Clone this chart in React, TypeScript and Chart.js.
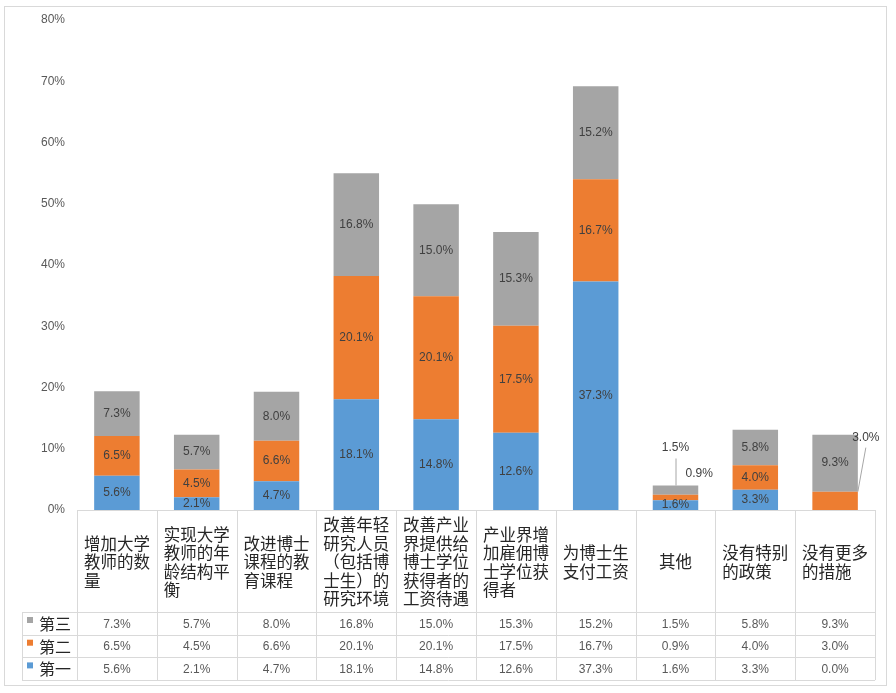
import React, { useEffect, useRef } from "react";
import { Chart, registerables } from "chart.js";

Chart.register(...registerables);

// ---- data ----
const categoryLines: string[][] = [
  ["增加大学", "教师的数", "量"],
  ["实现大学", "教师的年", "龄结构平", "衡"],
  ["改进博士", "课程的教", "育课程"],
  ["改善年轻", "研究人员", "（包括博", "士生）的", "研究环境"],
  ["改善产业", "界提供给", "博士学位", "获得者的", "工资待遇"],
  ["产业界增", "加雇佣博", "士学位获", "得者"],
  ["为博士生", "支付工资"],
  ["其他"],
  ["没有特别", "的政策"],
  ["没有更多", "的措施"],
];
const seriesNames = ["第一", "第二", "第三"];
const firstValues = [5.6, 2.1, 4.7, 18.1, 14.8, 12.6, 37.3, 1.6, 3.3, 0.0];
const secondValues = [6.5, 4.5, 6.6, 20.1, 20.1, 17.5, 16.7, 0.9, 4.0, 3.0];
const thirdValues = [7.3, 5.7, 8.0, 16.8, 15.0, 15.3, 15.2, 1.5, 5.8, 9.3];
const seriesColors = ["#5B9BD5", "#ED7D31", "#A5A5A5"];
const yMax = 80;
const yStep = 10;

const NUM_FONT = '12px "Liberation Sans", Arial, sans-serif';
const CJK_FONT = '16.5px "Noto Sans CJK SC", sans-serif';
const LEGEND_FONT = '16px "Noto Sans CJK SC", sans-serif';
const BORDER = "#D9D9D9";

const fmt = (v: number) => v.toFixed(1) + "%";

const labelPlugin = {
  id: "segLabels",
  afterDatasetsDraw(chart: any) {
    const ctx = chart.ctx;
    ctx.save();
    ctx.font = NUM_FONT;
    ctx.fillStyle = "#404040";
    ctx.textAlign = "center";
    ctx.textBaseline = "middle";
    chart.data.datasets.forEach((ds: any, di: number) => {
      const meta = chart.getDatasetMeta(di);
      meta.data.forEach((bar: any, i: number) => {
        const v = ds.data[i];
        if (!v) return;
        const top = Math.min(bar.y, bar.base);
        const right = bar.x + bar.width / 2;
        if (i === 7 && di === 2) {
          ctx.fillText(fmt(v), bar.x, top - 38);
          ctx.strokeStyle = "#A6A6A6";
          ctx.lineWidth = 1;
          ctx.beginPath();
          ctx.moveTo(bar.x + 0.5, top - 27);
          ctx.lineTo(bar.x + 0.5, top);
          ctx.stroke();
          return;
        }
        if (i === 7 && di === 1) {
          ctx.fillText(fmt(v), right + 1, top - 21);
          return;
        }
        if (i === 9 && di === 1) {
          ctx.fillText(fmt(v), right + 8, top - 54);
          ctx.strokeStyle = "#A6A6A6";
          ctx.lineWidth = 1;
          ctx.beginPath();
          ctx.moveTo(right + 8, top - 44);
          ctx.lineTo(right, top);
          ctx.stroke();
          return;
        }
        ctx.fillText(fmt(v), bar.x, (bar.y + bar.base) / 2);
      });
    });
    ctx.restore();
  },
};

const tablePlugin = {
  id: "dataTable",
  afterDraw(chart: any) {
    const ctx = chart.ctx;
    const xs = chart.scales.x;
    const n = chart.data.labels.length;
    const colW = xs.getPixelForValue(1) - xs.getPixelForValue(0);
    const left = xs.getPixelForValue(0) - colW / 2;
    const right = left + colW * n;
    const top = chart.chartArea.bottom;
    const catBottom = top + 102;
    const rowH = 22.7;
    const tableBottom = catBottom + rowH * 3;
    const legendLeft = 22;

    ctx.save();
    ctx.fillStyle = "#FFFFFF";
    ctx.fillRect(left, top + 0.5, right - left, tableBottom - top);
    ctx.fillRect(legendLeft, catBottom, left - legendLeft, tableBottom - catBottom);

    // borders
    ctx.strokeStyle = BORDER;
    ctx.lineWidth = 1;
    ctx.beginPath();
    ctx.moveTo(left, top + 0.5);
    ctx.lineTo(right, top + 0.5);
    for (let r = 0; r <= 3; r++) {
      const y = Math.round(catBottom + r * rowH) + 0.5;
      ctx.moveTo(legendLeft, y);
      ctx.lineTo(right, y);
    }
    for (let k = 0; k <= n; k++) {
      const x = Math.round(left + k * colW) + 0.5;
      ctx.moveTo(x, top);
      ctx.lineTo(x, tableBottom);
    }
    ctx.moveTo(legendLeft + 0.5, catBottom);
    ctx.lineTo(legendLeft + 0.5, tableBottom);
    ctx.stroke();

    // category labels
    ctx.font = CJK_FONT;
    ctx.fillStyle = "#262626";
    ctx.textBaseline = "middle";
    ctx.textAlign = "left";
    const lineH = 18.5;
    categoryLines.forEach((lines, i) => {
      const cx = xs.getPixelForValue(i);
      const maxW = Math.max(...lines.map((l) => ctx.measureText(l).width));
      const bx = cx - maxW / 2;
      const cy = (top + catBottom) / 2;
      const y0 = cy - ((lines.length - 1) * lineH) / 2;
      lines.forEach((l, j) => ctx.fillText(l, bx, y0 + j * lineH + 1));
    });

    // rows: 第三, 第二, 第一
    const rows = [2, 1, 0];
    rows.forEach((di, r) => {
      const rTop = catBottom + r * rowH;
      const cy = rTop + rowH / 2;
      ctx.fillStyle = seriesColors[di];
      ctx.fillRect(27, rTop + 5, 6, 6);
      ctx.font = LEGEND_FONT;
      ctx.fillStyle = "#262626";
      ctx.textAlign = "left";
      ctx.fillText(seriesNames[di], 39, cy + 0.5);
      ctx.font = NUM_FONT;
      ctx.fillStyle = "#595959";
      ctx.textAlign = "center";
      const vals = chart.data.datasets[di].data;
      vals.forEach((v: number, i: number) => {
        ctx.fillText(fmt(v), xs.getPixelForValue(i), cy + 1);
      });
    });

    // outer frame
    ctx.strokeStyle = BORDER;
    ctx.strokeRect(4.5, 6.5, 882, 679);
    ctx.restore();
  },
};

export default function App() {
  const ref = useRef<HTMLCanvasElement | null>(null);
  useEffect(() => {
    document.body.style.margin = "0";
    const canvas = ref.current!;
    const chart = new Chart(canvas, {
      type: "bar",
      data: {
        labels: categoryLines.map((l) => l.join("")),
        datasets: [
          { label: seriesNames[0], data: firstValues, backgroundColor: seriesColors[0] },
          { label: seriesNames[1], data: secondValues, backgroundColor: seriesColors[1] },
          { label: seriesNames[2], data: thirdValues, backgroundColor: seriesColors[2] },
        ],
      },
      options: {
        animation: false,
        responsive: false,
        devicePixelRatio: 1,
        layout: { padding: { left: 0, top: 20, right: 21, bottom: 183 } },
        datasets: { bar: { categoryPercentage: 1, barPercentage: 0.57 } } as any,
        plugins: { legend: { display: false }, tooltip: { enabled: false } },
        scales: {
          x: { stacked: true, display: false },
          y: {
            stacked: true,
            min: 0,
            max: yMax,
            afterFit: (s: any) => {
              s.width = 77;
            },
            grid: { display: false, drawTicks: false },
            border: { display: false },
            ticks: {
              stepSize: yStep,
              padding: 12,
              color: "#595959",
              font: { family: '"Liberation Sans", Arial, sans-serif', size: 12 },
              callback: (v: any) => v + "%",
            },
          },
        },
      },
      plugins: [labelPlugin, tablePlugin],
    });
    return () => chart.destroy();
  }, []);
  return (
    <div style={{ width: 896, height: 693 }}>
      <canvas ref={ref} width={896} height={693} style={{ display: "block" }} />
    </div>
  );
}
